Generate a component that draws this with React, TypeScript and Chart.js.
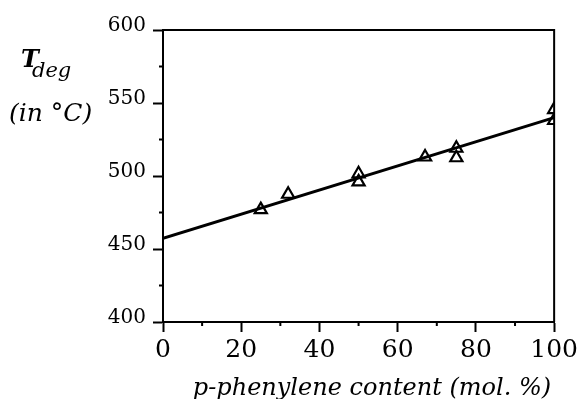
import React, { useEffect, useRef } from "react";
import { Chart, registerables } from "chart.js";

Chart.register(...registerables);

const xTicks = [0, 20, 40, 60, 80, 100];
const yTicks = [400, 450, 500, 550, 600];
const xMinor = [10, 30, 50, 70, 90];
const yMinor = [425, 475, 525, 575];
const contentX = [25, 32, 50, 50, 67, 75, 75, 100, 100];
const tdegY = [477, 487.5, 501.5, 496, 513, 519, 512.5, 545.5, 538];
const fitX = [0, 100];
const fitY = [457.3, 540];

const SERIF = "'DejaVu Serif', 'Liberation Serif', serif";

const framePlugin = {
  id: "frame",
  afterDraw(chart: any) {
    const ctx = chart.ctx;
    const a = chart.chartArea;
    const xs = chart.scales.x;
    const ys = chart.scales.y;
    ctx.save();
    ctx.strokeStyle = "#000";
    ctx.lineWidth = 2;
    ctx.beginPath();
    ctx.moveTo(a.left, a.top);
    ctx.lineTo(a.right, a.top);
    ctx.lineTo(a.right, a.bottom);
    ctx.stroke();
    ctx.lineWidth = 2;
    ctx.beginPath();
    xMinor.forEach((v) => {
      const px = xs.getPixelForValue(v);
      ctx.moveTo(px, a.bottom);
      ctx.lineTo(px, a.bottom + 4);
    });
    yMinor.forEach((v) => {
      const py = ys.getPixelForValue(v);
      ctx.moveTo(a.left, py);
      ctx.lineTo(a.left - 4, py);
    });
    ctx.stroke();

    ctx.fillStyle = "#000";
    ctx.textBaseline = "alphabetic";
    ctx.textAlign = "center";
    ctx.font = `italic 24px ${SERIF}`;
    ctx.fillText("p-phenylene content (mol. %)", 372, 395);

    ctx.textAlign = "left";
    ctx.font = `italic bold 24px ${SERIF}`;
    ctx.fillText("T", 21, 67);
    ctx.font = `italic 21px ${SERIF}`;
    ctx.fillText("deg", 32, 77);
    ctx.font = `italic 25px ${SERIF}`;
    ctx.fillText("(in \u00B0C)", 9, 121);
    ctx.restore();
  },
};

export default function App() {
  const ref = useRef<HTMLCanvasElement | null>(null);
  useEffect(() => {
    document.body.style.margin = "0";
    const canvas = ref.current!;
    const chart = new Chart(canvas, {
      type: "scatter",
      data: {
        datasets: [
          {
            type: "line",
            data: fitX.map((x, i) => ({ x, y: fitY[i] })),
            borderColor: "#000",
            borderWidth: 3,
            pointRadius: 0,
            fill: false,
          },
          {
            type: "scatter",
            data: contentX.map((x, i) => ({ x, y: tdegY[i] })),
            pointStyle: "triangle",
            pointRadius: 7,
            borderColor: "#000",
            borderWidth: 2.2,
            backgroundColor: "rgba(255,255,255,0)",
          },
        ],
      },
      options: {
        responsive: false,
        animation: false,
        devicePixelRatio: 1,
        layout: { padding: { top: 30, right: 25, left: 0, bottom: 0 } },
        plugins: { legend: { display: false }, tooltip: { enabled: false } },
        scales: {
          x: {
            type: "linear",
            min: 0,
            max: 100,
            afterBuildTicks: (s: any) => {
              s.ticks = xTicks.map((v) => ({ value: v }));
            },
            afterFit: (s: any) => {
              s.height = 77;
            },
            ticks: {
              color: "#000",
              font: { family: SERIF, size: 25 },
              padding: 3,
              maxRotation: 0,
              autoSkip: false,
            },
            grid: {
              drawOnChartArea: false,
              drawTicks: true,
              tickLength: 10,
              tickWidth: 2,
              tickColor: "#000",
            },
            border: { display: true, color: "#000", width: 2 },
          },
          y: {
            type: "linear",
            min: 400,
            max: 600,
            afterBuildTicks: (s: any) => {
              s.ticks = yTicks.map((v) => ({ value: v }));
            },
            afterFit: (s: any) => {
              s.width = 163;
            },
            ticks: {
              color: "#000",
              font: { family: SERIF, size: 20, lineHeight: "8px" },
              padding: 7,
              autoSkip: false,
              callback: (v: any) => [String(v), ""],
            },
            grid: {
              drawOnChartArea: false,
              drawTicks: true,
              tickLength: 10,
              tickWidth: 2,
              tickColor: "#000",
            },
            border: { display: true, color: "#000", width: 2 },
          },
        },
      },
      plugins: [framePlugin],
    });
    return () => chart.destroy();
  }, []);
  return (
    <div style={{ width: 581, height: 399, background: "#fff" }}>
      <canvas ref={ref} width={581} height={399} />
    </div>
  );
}
